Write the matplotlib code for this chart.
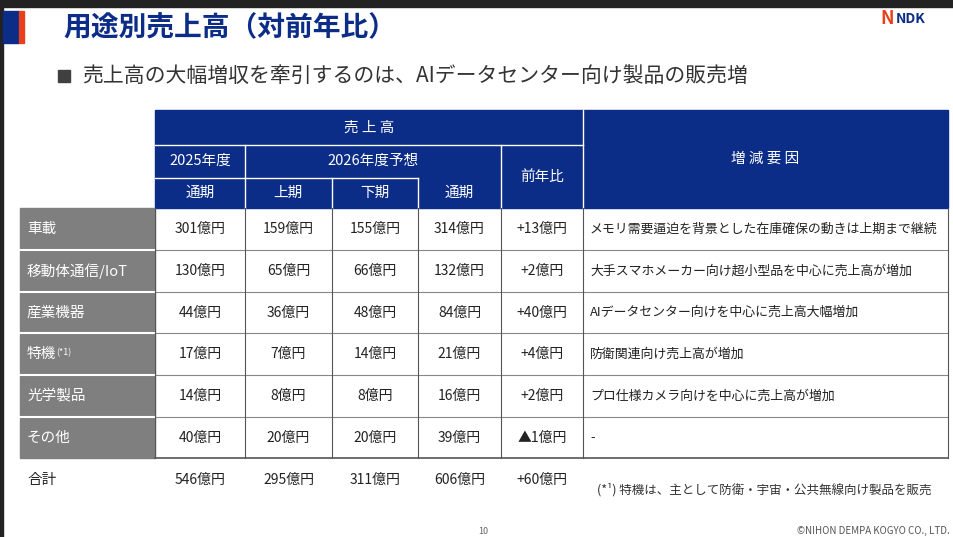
import matplotlib.pyplot as plt
from matplotlib.patches import Rectangle

plt.rcParams['font.family'] = ['Noto Sans CJK JP', 'DejaVu Sans']

categories = ['車載', '移動体通信/IoT', '産業機器', '特機', '光学製品', 'その他']
fy2025 = ['301億円', '130億円', '44億円', '17億円', '14億円', '40億円']
h1_2026 = ['159億円', '65億円', '36億円', '7億円', '8億円', '20億円']
h2_2026 = ['155億円', '66億円', '48億円', '14億円', '8億円', '20億円']
fy2026 = ['314億円', '132億円', '84億円', '21億円', '16億円', '39億円']
yoy = ['+13億円', '+2億円', '+40億円', '+4億円', '+2億円', '▲1億円']
reasons = ['メモリ需要逼迫を背景とした在庫確保の動きは上期まで継続',
           '大手スマホメーカー向け超小型品を中心に売上高が増加',
           'AIデータセンター向けを中心に売上高大幅増加',
           '防衛関連向け売上高が増加',
           'プロ仕様カメラ向けを中心に売上高が増加',
           '-']
totals = ['546億円', '295億円', '311億円', '606億円', '+60億円']

NAVY = '#0b2c87'
GRAY = '#7f7f7f'

fig = plt.figure(figsize=(9.54, 5.37), dpi=100)
ax = fig.add_axes([0, 0, 1, 1])
ax.set_xlim(0, 954)
ax.set_ylim(537, 0)
ax.axis('off')

# slide frame
ax.add_patch(Rectangle((0, 0), 954, 7, color='#222222'))
ax.add_patch(Rectangle((0, 0), 3, 537, color='#222222'))
ax.add_patch(Rectangle((3, 11), 16, 32, color=NAVY))
ax.add_patch(Rectangle((19, 11), 5, 32, color='#e8401c'))
ax.text(63, 28, '用途別売上高（対前年比）', fontsize=20, fontweight='bold',
        color=NAVY, va='center')
ax.text(880, 19, 'N', fontsize=13, fontweight='bold', style='italic', color='#e8401c', va='center')
ax.text(896, 19, 'NDK', fontsize=10, fontweight='bold', style='italic', color=NAVY, va='center')

ax.add_patch(Rectangle((58, 70), 12, 12, color='#404040'))
ax.text(82, 76, '売上高の大幅増収を牽引するのは、AIデータセンター向け製品の販売増',
        fontsize=15, color='#333333', va='center')

# table geometry
xs = [20, 155, 245, 332, 418, 501, 583, 948]
ys = [208, 250, 292, 333, 375, 417, 458]

# header
ax.add_patch(Rectangle((155, 110), 948 - 155, 98, color=NAVY))
w = dict(color='white', lw=1)
ax.plot([583, 583], [110, 208], **w)
ax.plot([155, 583], [145, 145], **w)
ax.plot([155, 418], [178, 178], **w)
ax.plot([245, 245], [145, 208], **w)
ax.plot([332, 332], [178, 208], **w)
ax.plot([418, 418], [178, 208], **w)
ax.plot([501, 501], [145, 208], **w)
hk = dict(color='white', fontsize=10.5, ha='center', va='center')
ax.text(369, 128, '売 上 高', **hk)
ax.text(200, 161, '2025年度', **hk)
ax.text(373, 161, '2026年度予想', **hk)
ax.text(200, 193, '通期', **hk)
ax.text(288, 193, '上期', **hk)
ax.text(375, 193, '下期', **hk)
ax.text(459, 193, '通期', **hk)
ax.text(542, 177, '前年比', **hk)
ax.text(765, 159, '増 減 要 因', **hk)

# body
cols = [fy2025, h1_2026, h2_2026, fy2026, yoy]
for i, cat in enumerate(categories):
    y0, y1 = ys[i], ys[i + 1]
    ym = (y0 + y1) / 2
    ax.add_patch(Rectangle((20, y0), 135, y1 - y0, color=GRAY))
    ax.text(27, ym, cat, color='white', fontsize=10.5, va='center')
    if cat == '特機':
        ax.text(56, ym - 1, '(*1)', color='white', fontsize=6.5, va='center')
    for j, col in enumerate(cols):
        ax.text((xs[j + 1] + xs[j + 2]) / 2, ym, col[i], fontsize=10,
                ha='center', va='center', color='#222222')
    ax.text(590, ym, reasons[i], fontsize=9.3, va='center', color='#222222')
    if i > 0:
        ax.plot([20, 155], [y0, y0], color='white', lw=1.5)
        ax.plot([155, 948], [y0, y0], color='#888888', lw=0.8)
for x in xs[1:]:
    ax.plot([x, x], [208, 458], color='#555555', lw=0.8)
ax.plot([155, 948], [458, 458], color='#555555', lw=1.2)

# totals
ax.text(27, 480, '合計', fontsize=10.5, va='center', color='#222222')
for j, t in enumerate(totals):
    ax.text((xs[j + 1] + xs[j + 2]) / 2, 480, t, fontsize=10,
            ha='center', va='center', color='#222222')
ax.text(597, 490, '(*¹) 特機は、主として防衛・宇宙・公共無線向け製品を販売',
        fontsize=9, va='center', color='#333333')

ax.text(483, 532, '10', fontsize=6.5, ha='center', va='center', color='#666666')
ax.text(950, 531, '©NIHON DEMPA KOGYO CO., LTD.', fontsize=7, ha='right',
        va='center', color='#555555')

fig.savefig('out.png', dpi=100)
